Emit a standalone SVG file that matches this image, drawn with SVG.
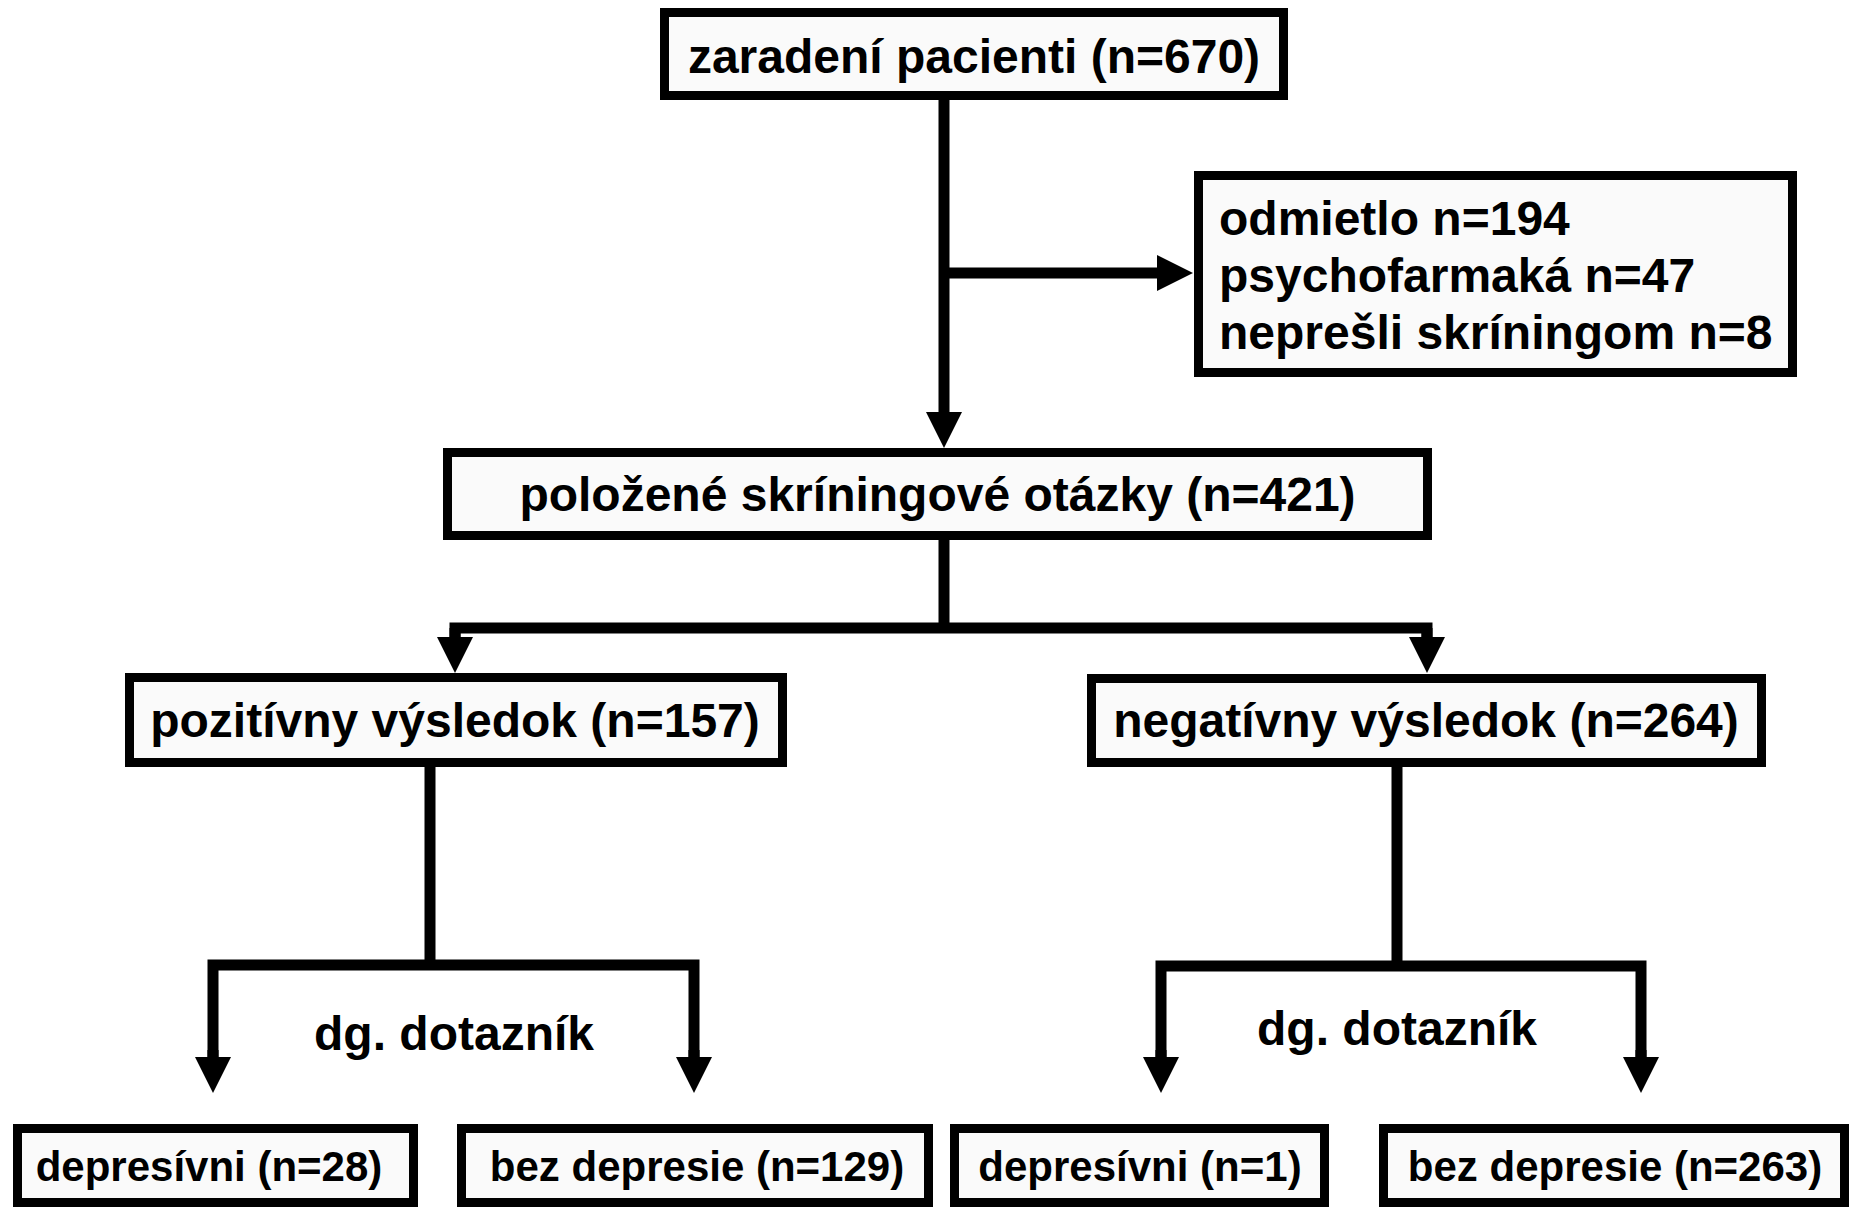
<svg xmlns="http://www.w3.org/2000/svg" width="1851" height="1207" viewBox="0 0 1851 1207">
<style>
.box{fill:#fafafa;stroke:#000;stroke-width:9}
.t{font-family:"Liberation Sans",Arial,sans-serif;font-weight:bold;font-size:48px;fill:#000}
.tc{text-anchor:middle}
.s{font-size:42px}
.ln{fill:none;stroke:#000;stroke-width:11;stroke-linejoin:miter}
</style>
<defs>
<marker id="ah" markerUnits="userSpaceOnUse" markerWidth="36" markerHeight="36" refX="0" refY="18" orient="auto">
<path d="M0,0 L36,18 L0,36 Z" fill="#000"/>
</marker>
</defs>
<rect width="1851" height="1207" fill="#fff"/>
<g id="connectors">
<path class="ln" d="M944,90 V412" marker-end="url(#ah)"/>
<path class="ln" d="M944,273 H1157" marker-end="url(#ah)"/>
<path class="ln" d="M944,528 V628"/>
<path class="ln" d="M455,637 V628 H1427 V637"/>
<path class="ln" d="M455,628 V637" marker-end="url(#ah)"/>
<path class="ln" d="M1427,628 V637" marker-end="url(#ah)"/>
<path class="ln" d="M430,758 V965"/>
<path class="ln" d="M213,1057 V965 H694 V1057"/>
<path class="ln" d="M213,1050 V1057" marker-end="url(#ah)"/>
<path class="ln" d="M694,1050 V1057" marker-end="url(#ah)"/>
<path class="ln" d="M1397,758 V966"/>
<path class="ln" d="M1161,1057 V966 H1641 V1057"/>
<path class="ln" d="M1161,1050 V1057" marker-end="url(#ah)"/>
<path class="ln" d="M1641,1050 V1057" marker-end="url(#ah)"/>
</g>
<g id="n_zaradeni">
<rect class="box" x="664.5" y="12.5" width="619" height="83"/>
<text class="t tc" x="974" y="73">zaradení pacienti (n=670)</text>
</g>
<g id="n_vyluceni">
<rect class="box" x="1198.5" y="175.5" width="594" height="197"/>
<text class="t" x="1219" y="235">odmietlo n=194</text>
<text class="t" x="1219" y="292">psychofarmaká n=47</text>
<text class="t" x="1219" y="349">neprešli skríningom n=8</text>
</g>
<g id="n_skrining">
<rect class="box" x="447.5" y="452.5" width="980" height="83"/>
<text class="t tc" x="937.5" y="511">položené skríningové otázky (n=421)</text>
</g>
<g id="n_pozitivny">
<rect class="box" x="129.5" y="677.5" width="653" height="85"/>
<text class="t tc" x="455" y="737">pozitívny výsledok (n=157)</text>
</g>
<g id="n_negativny">
<rect class="box" x="1091.5" y="678.5" width="670" height="84"/>
<text class="t tc" x="1426" y="737">negatívny výsledok (n=264)</text>
</g>
<g id="lbl_dg_left">
<text class="t tc" x="454" y="1050">dg. dotazník</text>
</g>
<g id="lbl_dg_right">
<text class="t tc" x="1397" y="1045">dg. dotazník</text>
</g>
<g id="n_pos_dep">
<rect class="box" x="17.5" y="1128.5" width="396" height="74"/>
<text class="t tc s" x="209" y="1181">depresívni (n=28)</text>
</g>
<g id="n_pos_bez">
<rect class="box" x="461.5" y="1128.5" width="467" height="74"/>
<text class="t tc s" x="697" y="1181">bez depresie (n=129)</text>
</g>
<g id="n_neg_dep">
<rect class="box" x="954.5" y="1128.5" width="370" height="74"/>
<text class="t tc s" x="1140" y="1181">depresívni (n=1)</text>
</g>
<g id="n_neg_bez">
<rect class="box" x="1383.5" y="1128.5" width="461" height="74"/>
<text class="t tc s" x="1615" y="1181">bez depresie (n=263)</text>
</g>
</svg>
